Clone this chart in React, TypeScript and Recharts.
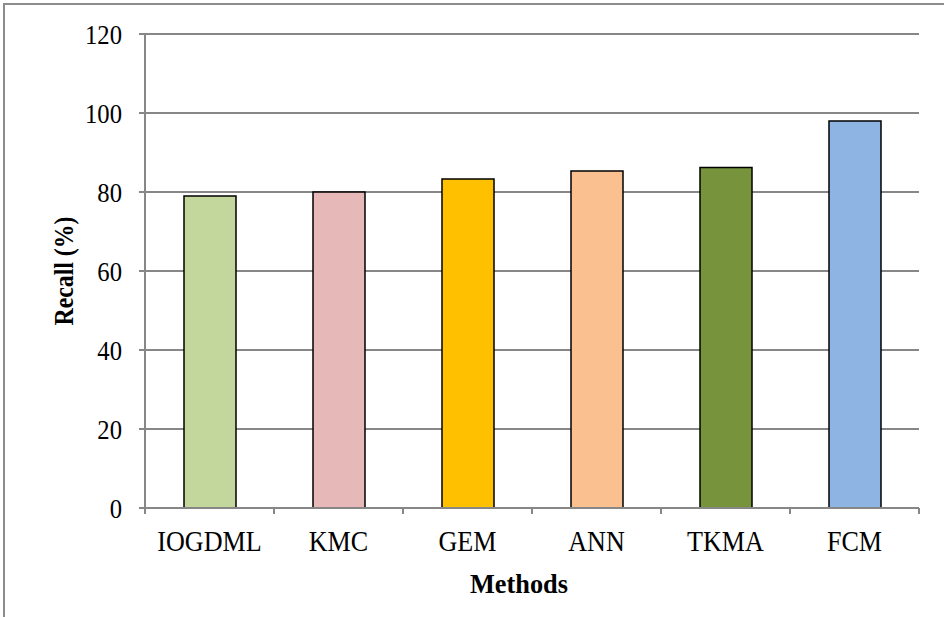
import { BarChart, Bar, XAxis, YAxis, CartesianGrid, Cell } from "recharts";

// Recall per clustering method
const methods = ["IOGDML", "KMC", "GEM", "ANN", "TKMA", "FCM"];
const recall = [79, 80, 83.3, 85.3, 86.2, 98];
const barColors = ["#C3D69B", "#E6B9B8", "#FFC000", "#FAC090", "#77933C", "#8EB4E3"];
const yTicks = [0, 20, 40, 60, 80, 100, 120];

const data = methods.map((name, i) => ({ name, recall: recall[i] }));

const W = 944;
const H = 617;
const MARGIN = { top: 34, right: 25, bottom: 39, left: 65 };
const Y_AXIS_W = 80;
const X_AXIS_H = 70;
const PLOT_LEFT = MARGIN.left + Y_AXIS_W;
const PLOT_W = W - PLOT_LEFT - MARGIN.right;
const AXIS_Y = H - MARGIN.bottom - X_AXIS_H;

const FONT = "'Liberation Serif', 'Times New Roman', serif";
const GRID = "#878787";

// Category label plus tick marks on the band edges (Excel style)
function MethodTick(props: any) {
  const { x, payload, index } = props;
  const band = PLOT_W / methods.length;
  const left = x - band / 2;
  const right = x + band / 2;
  return (
    <g>
      <line x1={left} y1={AXIS_Y} x2={left} y2={AXIS_Y + 6} stroke={GRID} strokeWidth={2} />
      {index === methods.length - 1 && (
        <line x1={right} y1={AXIS_Y} x2={right} y2={AXIS_Y + 6} stroke={GRID} strokeWidth={2} />
      )}
      <text
        transform={`translate(${x} ${AXIS_Y + 43}) scale(0.9 1)`}
        textAnchor="middle"
        fill="#000"
        fontSize={29}
        fontFamily={FONT}
      >
        {payload.value}
      </text>
    </g>
  );
}

function ValueTick(props: any) {
  const { x, y, payload } = props;
  return (
    <text
      transform={`translate(${x} ${y}) scale(0.88 1)`}
      dy="0.34em"
      textAnchor="end"
      fill="#000"
      fontSize={28}
      fontFamily={FONT}
    >
      {payload.value}
    </text>
  );
}

export default function App() {
  return (
    <div style={{ position: "absolute", left: 0, top: 0, width: W, height: H, background: "#fff" }}>
      <div
        style={{
          position: "absolute",
          left: 3,
          top: 3,
          width: W,
          height: H,
          borderTop: "2px solid #8c8c8c",
          borderLeft: "2px solid #8c8c8c",
        }}
      />
      <BarChart
        width={W}
        height={H}
        data={data}
        margin={MARGIN}
        barCategoryGap="30%"
        style={{ position: "absolute", left: 0, top: 0 }}
      >
        <CartesianGrid vertical={false} stroke={GRID} strokeWidth={2} />
        <XAxis
          dataKey="name"
          height={X_AXIS_H}
          stroke={GRID}
          strokeWidth={2}
          tickLine={false}
          tickSize={6}
          tickMargin={12}
          tick={<MethodTick />}
          interval={0}
          label={{
            content: () => (
              <text
                transform="translate(519 593) scale(0.94 1)"
                textAnchor="middle"
                fontSize={28}
                fontWeight="bold"
                fontFamily={FONT}
                fill="#000"
              >
                Methods
              </text>
            ),
          }}
        />
        <YAxis
          width={Y_AXIS_W}
          domain={[0, 120]}
          ticks={yTicks}
          interval={0}
          stroke={GRID}
          strokeWidth={2}
          tickSize={6}
          tickMargin={17}
          tickLine={{ stroke: GRID, strokeWidth: 2 }}
          tick={<ValueTick />}
          label={{
            content: () => (
              <text
                transform="translate(73 271) rotate(-90) scale(0.85 1)"
                textAnchor="middle"
                fontSize={28}
                fontWeight="bold"
                fontFamily={FONT}
                fill="#000"
              >
                Recall (%)
              </text>
            ),
          }}
        />
        <Bar dataKey="recall" barSize={52} stroke="#000" strokeWidth={1.5} isAnimationActive={false}>
          {data.map((d, i) => (
            <Cell key={d.name} fill={barColors[i]} />
          ))}
        </Bar>
      </BarChart>
    </div>
  );
}
